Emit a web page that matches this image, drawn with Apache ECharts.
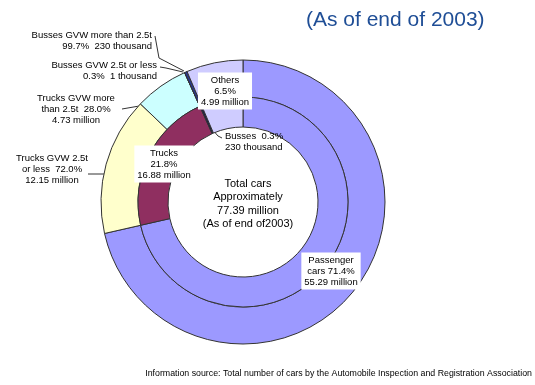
<!DOCTYPE html>
<html>
<head>
<meta charset="utf-8">
<script src="https://cdn.jsdelivr.net/npm/echarts@6/dist/echarts.min.js"></script>
<style>
html,body{margin:0;padding:0;background:#fff;}
#chart{width:535px;height:385px;}
</style>
</head>
<body>
<div id="chart"></div>
<script>
// ---- data ----
const innerCategories = ['Passenger cars', 'Trucks', 'Busses', 'Others'];
const innerValues = [55.29, 16.88, 0.23, 4.99];
const innerLabels = ['Passenger\ncars 71.4%\n55.29 million', 'Trucks\n21.8%\n16.88 million', 'Busses  0.3%\n230 thousand', 'Others\n6.5%\n4.99 million'];

const outerCategories = ['Passenger cars', 'Trucks GVW 2.5t or less', 'Trucks GVW more than 2.5t', 'Busses GVW 2.5t or less', 'Busses GVW more than 2.5t', 'Others'];
const outerValues = [55.29, 12.15, 4.73, 0.001, 0.229, 4.99];
const outerLabels = ['', 'Trucks GVW 2.5t\nor less  72.0%\n12.15 million', 'Trucks GVW more\nthan 2.5t  28.0%\n4.73 million', 'Busses GVW 2.5t or less\n0.3%  1 thousand', 'Busses GVW more than 2.5t\n99.7%  230 thousand', ''];

const titleText = '(As of end of 2003)';
const centerText = 'Total cars\nApproximately\n77.39 million\n(As of end of2003)';
const sourceText = 'Information source: Total number of cars by the Automobile Inspection and Registration Association';

// ---- styles ----
const innerColors = ['#9C99FF', '#8F2F60', '#1C1C4A', '#CFCCFF'];
const outerColors = ['#9C99FF', '#FFFFCC', '#CCFFFF', '#333399', '#2B3990', '#CFCCFF'];
const FONT = 'Arial, "Liberation Sans", sans-serif';

const chart = echarts.init(document.getElementById('chart'), null, {renderer: 'canvas'});

const innerData = innerCategories.map((name, i) => ({
  name, value: innerValues[i],
  itemStyle: {color: innerColors[i]},
  label: {
    show: true,
    backgroundColor: i === 2 ? 'transparent' : '#fff',
    padding: i === 2 ? [0, 0, 0, 2] : [2, 3, 2, 3]
  },
  labelLine: {show: i === 2}
}));

const outerData = outerCategories.map((name, i) => ({
  name, value: outerValues[i],
  itemStyle: {color: outerColors[i]},
  label: {show: outerLabels[i] !== ''},
  labelLine: {show: outerLabels[i] !== ''}
}));

// label anchor placements (annotation layout)
const innerLayout = {
  0: {x: 331, y: 271, align: 'center'},
  1: {x: 164, y: 164, align: 'center'},
  2: {x: 223, y: 142, align: 'left', line: [[212, 129], [218, 136], [222, 138]]},
  3: {x: 225, y: 91, align: 'center'}
};
const outerLayout = {
  1: {x: 52, y: 169, align: 'center', line: [[122, 174], [105, 174], [88, 174]]},
  2: {x: 76, y: 109, align: 'center', line: [[168, 102], [145, 105], [122, 109]]},
  3: {x: 157, y: 71, align: 'right', line: [[183, 72], [166, 68], [160, 67]]},
  4: {x: 152, y: 41, align: 'right', line: [[184, 71], [159, 58], [155, 36]]}
};

function layoutFn(table) {
  return function (params) {
    const l = table[params.dataIndex];
    if (!l) return {};
    const r = {x: l.x, y: l.y, align: l.align, verticalAlign: 'middle'};
    if (l.line) r.labelLinePoints = l.line;
    return r;
  };
}

const commonLabel = {
  fontFamily: FONT,
  fontSize: 9.5,
  lineHeight: 11,
  color: '#000'
};

chart.setOption({
  animation: false,
  backgroundColor: '#fff',
  title: [
    {
      text: titleText,
      left: 301, top: 5,
      textStyle: {fontFamily: FONT, fontSize: 21, fontWeight: 'normal', color: '#1F4E96'}
    },
    {
      text: sourceText,
      right: -2, top: 364,
      textStyle: {fontFamily: FONT, fontSize: 8.8, fontWeight: 'normal', color: '#000'}
    },
    {
      text: centerText,
      left: 243, top: 199, textAlign: 'center', textVerticalAlign: 'middle',
      textStyle: {fontFamily: FONT, fontSize: 11, lineHeight: 13.3, fontWeight: 'normal', color: '#000'}
    }
  ],
  series: [
    {
      type: 'pie',
      name: 'outer',
      center: [243, 202],
      radius: [105, 142],
      startAngle: 90,
      clockwise: true,
      avoidLabelOverlap: false,
      minShowLabelAngle: 0,
      silent: true,
      itemStyle: {borderColor: '#333', borderWidth: 1},
      label: Object.assign({position: 'outside', align: 'center',
        formatter: p => outerLabels[p.dataIndex]}, commonLabel),
      labelLine: {show: true, lineStyle: {color: '#333', width: 1}},
      labelLayout: layoutFn(outerLayout),
      emphasis: {disabled: true},
      data: outerData
    },
    {
      type: 'pie',
      name: 'inner',
      center: [243, 202],
      radius: [75, 105],
      startAngle: 90,
      clockwise: true,
      avoidLabelOverlap: false,
      minShowLabelAngle: 0,
      silent: true,
      itemStyle: {borderColor: '#333', borderWidth: 1},
      label: Object.assign({position: 'outside', align: 'center',
        formatter: p => innerLabels[p.dataIndex]}, commonLabel),
      labelLine: {show: false, lineStyle: {color: '#333', width: 1}},
      labelLayout: layoutFn(innerLayout),
      emphasis: {disabled: true},
      data: innerData
    }
  ]
});
</script>
</body>
</html>
